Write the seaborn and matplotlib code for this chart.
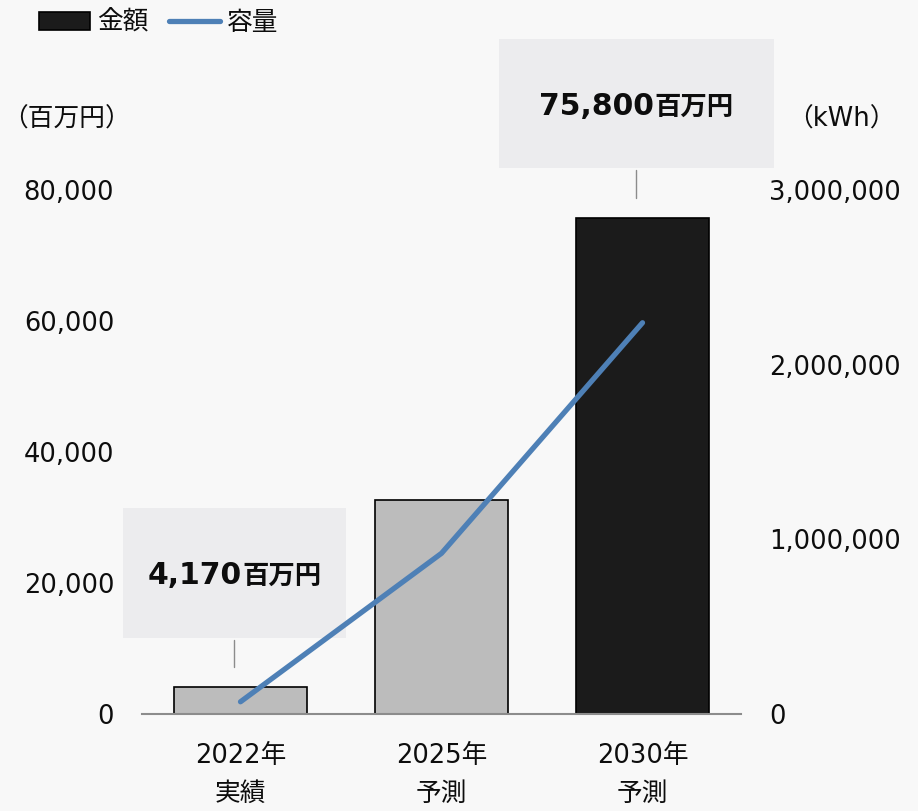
import numpy as np
import seaborn as sns
import matplotlib
matplotlib.use("Agg")
import matplotlib.pyplot as plt
from matplotlib.patches import Rectangle
from matplotlib.ticker import FuncFormatter
from matplotlib.offsetbox import TextArea, HPacker, AnnotationBbox

# --- data -------------------------------------------------------------
categories = ["2022年\n実績", "2025年\n予測", "2030年\n予測"]
amount = [4170, 32600, 75800]            # 金額（百万円）
capacity = [70000, 920000, 2240000]      # 容量（kWh）
amount_ticks = [0, 20000, 40000, 60000, 80000]
capacity_ticks = [0, 1000000, 2000000, 3000000]
callout_bars = [0, 2]                    # bars that get a value callout
amount_unit = "百万円"
series_names = ["金額", "容量"]

# --- style --------------------------------------------------------------
BG = "#f8f8f8"
BAR_COLORS = ["#bcbcbc", "#bcbcbc", "#1b1b1b"]
LINE_COLOR = "#4e80b6"
BOX_COLOR = "#ececee"
AXIS_GRAY = "#8c8c8c"
INK = "#0d0d0d"
FS = 18.5

sns.set_theme(style="white")
plt.rcParams["font.family"] = ["DejaVu Sans", "Noto Sans CJK JP"]
plt.rcParams["text.color"] = INK
plt.rcParams["xtick.color"] = INK
plt.rcParams["ytick.color"] = INK

fig = plt.figure(figsize=(9.18, 8.11), dpi=100, facecolor=BG)
ax = fig.add_axes([142 / 918, 97 / 811, 599 / 918, 524 / 811])
ax.patch.set_alpha(0)

positions = np.arange(len(categories))

sns.barplot(x=categories, y=amount, hue=categories, palette=BAR_COLORS,
            legend=False, width=0.662, saturation=1, ax=ax,
            edgecolor="black", linewidth=1.2, zorder=2)

ax2 = ax.twinx()
sns.lineplot(x=positions, y=capacity, ax=ax2, color=LINE_COLOR,
             linewidth=3.8, solid_capstyle="round", zorder=3)

# --- axes ---------------------------------------------------------------
ax.set_xlim(-0.49, 2.49)
ax.set_ylim(0, amount_ticks[-1])
ax2.set_ylim(0, capacity_ticks[-1])
ax.set_yticks(amount_ticks)
ax2.set_yticks(capacity_ticks)
fmt = FuncFormatter(lambda v, _: f"{v:,.0f}")
ax.yaxis.set_major_formatter(fmt)
ax2.yaxis.set_major_formatter(fmt)
ax.set_xticks(positions)
ax.set_xticklabels(categories, linespacing=1.6)

for a in (ax, ax2):
    a.set_xlabel("")
    a.set_ylabel("")
    for s in a.spines.values():
        s.set_visible(False)
ax.spines["bottom"].set_visible(True)
ax.spines["bottom"].set_color(AXIS_GRAY)
ax.spines["bottom"].set_linewidth(1.5)

ax.tick_params(axis="y", length=0, pad=20, labelsize=FS)
ax2.tick_params(axis="y", length=0, pad=20, labelsize=FS)
ax.tick_params(axis="x", length=0, pad=21, labelsize=FS)
ax2.tick_params(axis="x", length=0)

# --- value callouts -----------------------------------------------------
box_half_widths = {0: 0.557, 2: 0.682}
gap, box_h, x_shift = 7500, 19800, -0.03
for i in callout_bars:
    v = amount[i]
    cx = positions[i] + x_shift
    hw = box_half_widths[i]
    ax.add_patch(Rectangle((cx - hw, v + gap), 2 * hw, box_h,
                           facecolor=BOX_COLOR, edgecolor="none",
                           clip_on=False, zorder=1))
    ax.plot([cx, cx], [v + 3000, v + 7200], color=AXIS_GRAY, lw=1.0,
            clip_on=False, zorder=1)
    label = HPacker(children=[
        TextArea(f"{v:,}", textprops=dict(fontsize=21.5, fontweight="bold",
                                          family="DejaVu Sans", color=INK)),
        TextArea(amount_unit, textprops=dict(fontsize=19, fontweight="bold",
                                             family="Noto Sans CJK JP", color=INK)),
    ], align="baseline", pad=0, sep=0)
    ax.add_artist(AnnotationBbox(label, (cx, v + gap + box_h / 2 - 400),
                                 xycoords="data", frameon=False, pad=0,
                                 box_alignment=(0.5, 0.5),
                                 annotation_clip=False, zorder=4))

# --- unit labels and legend -------------------------------------------
fig.text(67 / 918, 1 - 120 / 811, "（百万円）", ha="center", va="center", fontsize=18.5)
fig.text(841 / 918, 1 - 120 / 811, "（kWh）", ha="center", va="center", fontsize=18.5)

fig.legend(handles=[ax.patches[2], ax2.lines[0]], labels=series_names,
           loc="upper left", bbox_to_anchor=(39 / 918, 1 - 10 / 811),
           ncol=2, frameon=False, fontsize=FS, handlelength=2.0,
           handletextpad=0.25, columnspacing=0.8, borderpad=0,
           borderaxespad=0)

fig.savefig("out.png", dpi=100, facecolor=BG)
